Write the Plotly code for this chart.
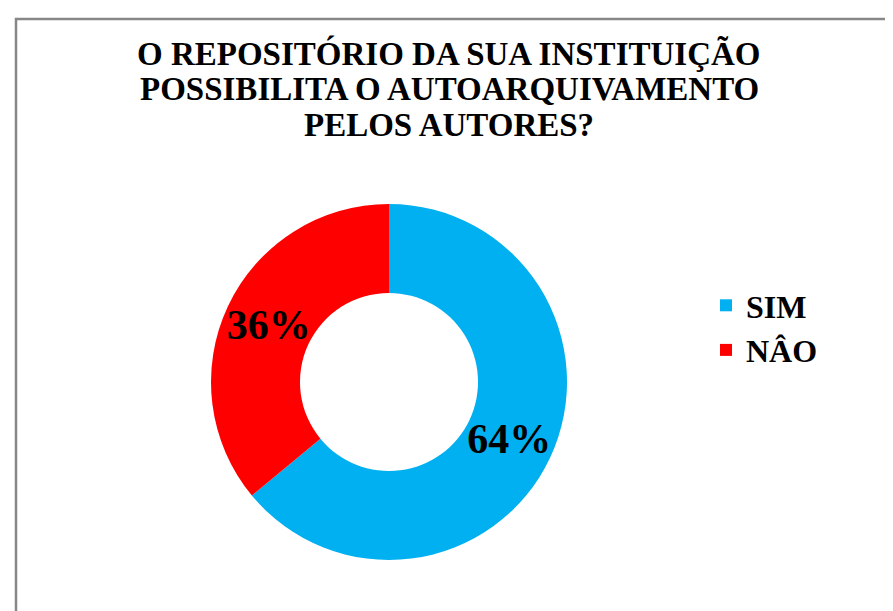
import plotly.graph_objects as go

labels = ["SIM", "NÂO"]
values = [64, 36]
colors = ["#00B0F0", "#FF0000"]
title_lines = ["O REPOSITÓRIO DA SUA INSTITUIÇÃO",
               "POSSIBILITA O AUTOARQUIVAMENTO",
               "PELOS AUTORES?"]

W, H = 893, 611
cx, cy, r = 381, 374, 178
serif = "Liberation Serif, Times New Roman, serif"

fig = go.Figure()

# donut ring
fig.add_trace(go.Pie(
    labels=labels,
    values=values,
    marker=dict(colors=colors, line=dict(width=0)),
    hole=0.5,
    sort=False,
    direction="clockwise",
    rotation=0,
    textinfo="none",
    domain=dict(x=[(cx - r) / W, (cx + r) / W], y=[1 - (cy + r) / H, 1 - (cy - r) / H]),
    showlegend=True,
))

# transparent companion pie carrying the percentage labels at the ring's mid radius
r2 = 230
mid = 133
fig.add_trace(go.Pie(
    labels=labels,
    values=values,
    marker=dict(colors=["rgba(0,0,0,0)"] * len(values), line=dict(width=0)),
    hole=(2 * mid - r2) / r2,
    sort=False,
    direction="clockwise",
    rotation=0,
    texttemplate="%{percent:.0%}",
    textposition="inside",
    insidetextorientation="horizontal",
    textfont=dict(family=serif, size=42, color="black", weight="bold"),
    hoverinfo="skip",
    domain=dict(x=[(cx - r2) / W, (cx + r2) / W], y=[1 - (cy + r2) / H, 1 - (cy - r2) / H]),
    showlegend=False,
))

title_y = [45, 81, 117]
annotations = [
    dict(text=t, xref="paper", yref="paper", x=441 / W, y=1 - yy / H,
         xanchor="center", yanchor="middle", showarrow=False,
         font=dict(family=serif, size=33, color="black", weight="bold"))
    for t, yy in zip(title_lines, title_y)
]

fig.update_layout(
    width=W, height=H,
    margin=dict(l=0, r=0, t=0, b=0),
    paper_bgcolor="white",
    plot_bgcolor="white",
    annotations=annotations,
    legend=dict(
        x=698 / W, xanchor="left",
        y=1 - 270 / H, yanchor="top",
        font=dict(family=serif, size=32, color="black", weight="bold"),
        itemsizing="constant",
    ),
    shapes=[dict(type="rect", xref="paper", yref="paper",
                 x0=8 / W, x1=1.05, y0=-0.05, y1=1 - 11 / H,
                 line=dict(color="#878787", width=2.5))],
)

fig.write_html("out.html")
